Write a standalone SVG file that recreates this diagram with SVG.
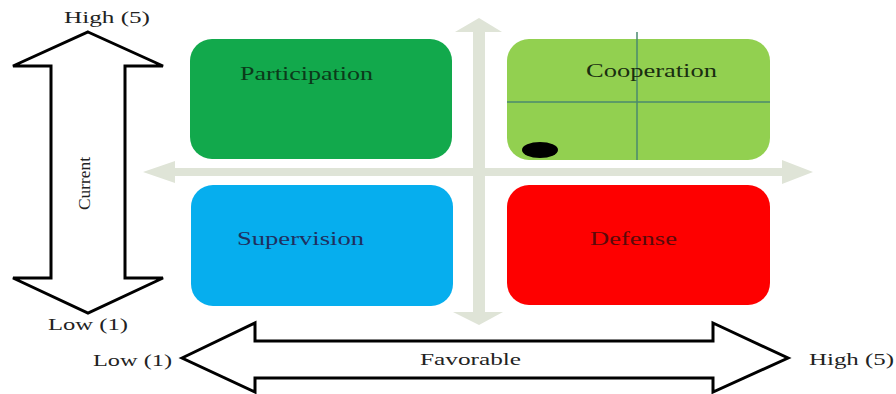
<svg xmlns="http://www.w3.org/2000/svg" width="896" height="394" viewBox="0 0 896 394">
<style>
.lbl{font-family:"Liberation Serif","Times New Roman",serif;font-size:16px;fill:#222}
.box{font-family:"Liberation Serif","Times New Roman",serif;font-size:19px}
.arrow{fill:#fff;stroke:#000;stroke-width:3;stroke-linejoin:miter}
.axis{fill:#dfe4d7}
</style>
<rect width="896" height="394" fill="#fff"/>
<g id="axes">
<polygon class="axis" points="479,18 502,32 485,32 485,312 503,312 479,325 453,312 473,312 473,32 455,32"/>
<polygon class="axis" points="143,172 175,161 175,168 782,168 782,160 813,172 782,184 782,176 175,176 175,183"/>
</g>
<g id="participation">
<rect x="190" y="39" width="262" height="120" rx="22" fill="#12a94c"/>
<text class="box" x="240" y="80" textLength="133" lengthAdjust="spacingAndGlyphs" fill="#0b3a1a">Participation</text>
</g>
<g id="cooperation">
<rect x="507" y="39" width="263" height="121" rx="22" fill="#92d050"/>
<line x1="637" y1="32" x2="637" y2="160" stroke="#4a8a6e" stroke-width="1.5"/>
<line x1="507" y1="102" x2="770" y2="102" stroke="#4a8a6e" stroke-width="1.5"/>
<text class="box" x="586" y="77" textLength="131" lengthAdjust="spacingAndGlyphs" fill="#1a2e10">Cooperation</text>
<ellipse cx="540" cy="150" rx="18" ry="8" fill="#000"/>
</g>
<g id="supervision">
<rect x="191" y="185" width="262" height="121" rx="22" fill="#06aeee"/>
<text class="box" x="237" y="245" textLength="127" lengthAdjust="spacingAndGlyphs" fill="#1f3060">Supervision</text>
</g>
<g id="defense">
<rect x="507" y="185" width="263" height="120" rx="22" fill="#fe0000"/>
<text class="box" x="590" y="245" textLength="87" lengthAdjust="spacingAndGlyphs" fill="#5a0a0a">Defense</text>
</g>
<g id="current-axis">
<polygon class="arrow" points="88,32 163,66 125,66 125,278 163,278 88,313 13,278 51,278 51,66 13,66"/>
<text class="lbl" font-family="Liberation Serif, serif" transform="translate(90,157) rotate(-90)" x="-53" y="0" textLength="53" lengthAdjust="spacingAndGlyphs">Current</text>
<text class="lbl" x="64" y="23" textLength="86" lengthAdjust="spacingAndGlyphs">High (5)</text>
<text class="lbl" x="48" y="330" textLength="80" lengthAdjust="spacingAndGlyphs">Low (1)</text>
</g>
<g id="favorable-axis">
<polygon class="arrow" points="182,358 255,323 255,341 713,341 713,323 788,358 713,392 713,378 255,378 255,392"/>
<text class="lbl" font-family="Liberation Serif, serif" x="420" y="365" textLength="101" lengthAdjust="spacingAndGlyphs">Favorable</text>
<text class="lbl" x="93" y="366" textLength="79" lengthAdjust="spacingAndGlyphs">Low (1)</text>
<text class="lbl" x="809" y="365" textLength="85" lengthAdjust="spacingAndGlyphs">High (5)</text>
</g>
</svg>
